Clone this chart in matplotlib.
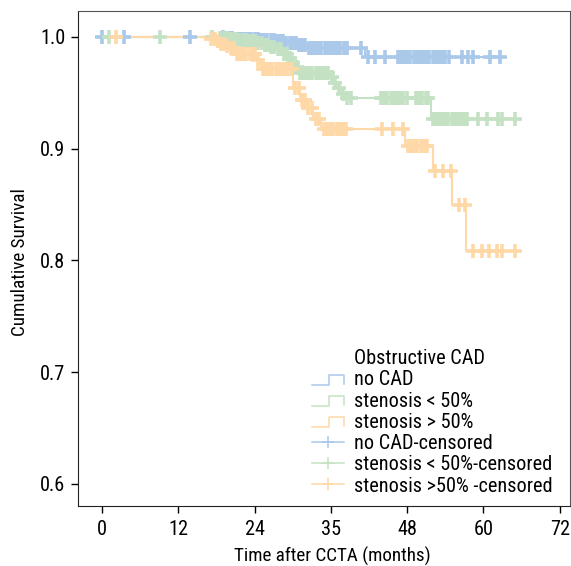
import numpy as np
import matplotlib
matplotlib.use("Agg")
import matplotlib.pyplot as plt
import matplotlib.font_manager as fm
from matplotlib.font_manager import FontProperties
from matplotlib.textpath import TextPath
from matplotlib.lines import Line2D
from matplotlib.legend_handler import HandlerBase

# ---------------- data ----------------
groups = ["no CAD", "stenosis < 50%", "stenosis > 50%"]
censor_labels = ["no CAD-censored", "stenosis < 50%-censored", "stenosis >50% -censored"]
legend_title = "Obstructive CAD"
x_label = "Time after CCTA (months)"
y_label = "Cumulative Survival"
colors = ["#a9c8ea", "#c4e2c3", "#fed8a6"]

# step (event) times and survival after each event
blue_t = [19.5, 21.0, 23.0, 25.0, 27.5, 29.0, 31.0, 32.5, 41.3]
blue_s = [0.9992, 0.9985, 0.998, 0.997, 0.996, 0.995, 0.993, 0.990, 0.982]
green_t = [18.5, 20.0, 21.5, 23.0, 24.5, 25.5, 26.5, 27.5, 28.5, 29.2, 29.8, 30.3, 30.8,
           35.8, 36.4, 37.0, 37.6, 38.2, 51.7]
green_s = [0.999, 0.998, 0.997, 0.996, 0.995, 0.993, 0.991, 0.989, 0.985, 0.981, 0.977, 0.973, 0.968,
           0.964, 0.959, 0.954, 0.949, 0.945, 0.927]
orange_t = [17.0, 17.8, 18.5, 19.3, 20.2, 21.0, 24.3, 25.0, 30.1, 31.2, 32.0, 33.2, 34.4,
            47.6, 52.0, 55.1, 57.3]
orange_s = [0.998, 0.996, 0.994, 0.992, 0.990, 0.985, 0.979, 0.971, 0.954, 0.944, 0.936, 0.927, 0.918,
            0.902, 0.880, 0.850, 0.808]

blue_c = [0, 3.5, 13.8,
          19.0, 19.5, 20.0, 20.5, 21.0, 21.5, 22.0, 22.5, 23.0, 23.5, 24.0, 24.5, 25.0, 25.5,
          26.0, 26.5, 27.0, 27.5, 28.0, 28.5, 29.0, 29.5, 30.0, 30.5, 31.0, 31.5, 32.0, 32.5,
          33.0, 33.5, 34.0, 34.5, 35.0, 35.5, 36.0, 36.5, 37.0, 37.5, 38.0, 38.6,
          40.8, 41.8, 42.9, 44.5,
          46.5, 47.0, 47.5, 48.0, 48.5, 49.0, 49.5, 50.0, 50.5, 51.0, 51.5, 52.0, 52.5, 53.0,
          53.5, 54.0, 54.6, 56.6, 57.5, 58.3, 61.0, 62.6]
green_c = [1.1, 9.1, 17.3,
           18.6, 19.1, 19.6, 20.1, 20.6, 21.1, 21.6, 22.1, 22.6, 23.1, 23.6, 24.1, 24.6, 25.1,
           25.6, 26.1, 26.6, 27.1, 27.6, 28.1, 28.6, 29.1, 29.6, 30.1, 30.6, 31.1, 31.6, 32.1,
           32.6, 33.1, 33.6, 34.1, 34.6, 35.1, 35.6,
           36.1, 36.7, 37.3, 37.9, 38.5, 39.2,
           43.9, 44.4, 44.9, 45.4, 45.9, 46.4, 46.9, 47.4, 47.9,
           49.4, 49.9, 50.4, 50.9, 51.3,
           52.0, 52.5, 53.0, 53.5, 54.0, 54.5, 55.0, 55.5, 56.0, 56.5, 57.0, 57.4,
           59.1, 60.5, 62.3, 63.0, 64.9]
orange_c = [2.2,
            17.2, 17.7, 18.2, 18.7, 19.2, 19.7, 20.2, 20.7, 21.2, 21.7, 22.2, 22.7, 23.2, 23.7,
            24.1, 24.6, 25.3, 25.8, 26.3, 26.8, 27.3, 27.8, 28.3, 28.8, 29.3, 29.8,
            30.4, 31.0, 31.5, 31.9, 32.4, 33.0, 33.6, 34.2,
            34.9, 35.4, 35.9, 36.4, 36.9, 37.4, 37.9, 38.3,
            44.0, 45.8, 47.3,
            48.1, 48.6, 49.1, 49.6, 50.1, 50.6, 51.1,
            52.4, 53.6, 54.9, 56.2, 57.1,
            58.3, 59.7, 60.9, 62.1, 63.0, 64.9]
end_times = [62.6, 64.9, 64.9]

x_ticks = [0, 12, 24, 36, 48, 60, 72]
x_tick_labels = ["0", "12", "24", "35", "48", "60", "72"]
y_ticks = [0.6, 0.7, 0.8, 0.9, 1.0]


# ---------------- font choice (narrow sans if available) ----------------
def pick_font():
    entries = fm.fontManager.ttflist
    ok_w = ('400', 'normal', 'regular', 'book')
    prefs = ['Liberation Sans Narrow', 'Arial Narrow', 'Roboto Condensed',
             'Open Sans Condensed', 'Noto Sans Condensed', 'DejaVu Sans Condensed']
    for p in prefs:
        for e in entries:
            if e.name == p and e.style == 'normal' and str(e.weight).lower() in ok_w:
                return e.name, e.stretch
    for base in ['Liberation Sans', 'Roboto', 'Noto Sans', 'Open Sans', 'DejaVu Sans']:
        for e in entries:
            if (e.name == base and e.style == 'normal' and str(e.weight).lower() in ok_w
                    and e.stretch in ('condensed', 'semi-condensed')):
                return e.name, e.stretch
    return 'Liberation Sans', 'normal'


fam, stretch = pick_font()
plt.rcParams['font.family'] = [fam, 'DejaVu Sans']
plt.rcParams['font.stretch'] = stretch
FP = FontProperties(family=[fam, 'DejaVu Sans'], stretch=stretch)


def fit_size(s, target_w, target_cap=None):
    tp = TextPath((0, 0), s, size=10, prop=FP)
    w_px = tp.get_extents().width * 100 / 72
    size_w = 10 * target_w / w_px
    if target_cap is None:
        return size_w
    cap = TextPath((0, 0), "H", size=10, prop=FP).get_extents().height * 100 / 72
    size_h = 10 * target_cap / cap
    return (size_w * size_h) ** 0.5


tick_fs = fit_size("0.6", 24, 14)
xlab_fs = fit_size(x_label, 195, 13.6)
ylab_fs = fit_size(y_label, 145, 13.6)
leg_fs = fit_size(censor_labels[2], 196)

# ---------------- plot ----------------
fig = plt.figure(figsize=(5.71, 5.66), dpi=100)
ax = fig.add_axes([0.1366, 0.106, 0.8614, 0.8746])

steps = [(blue_t, blue_s, blue_c), (green_t, green_s, green_c), (orange_t, orange_s, orange_c)]


def surv_at(t, times, surv):
    idx = np.searchsorted(times, t, side='right')
    vals = np.concatenate([[1.0], surv])
    return vals[idx]


for (tt, ss, cc), col, tend in zip(steps, colors, end_times):
    xs = np.concatenate([[0.0], tt, [tend]])
    ys = np.concatenate([[1.0], ss, [ss[-1]]])
    ax.step(xs, ys, where='post', color=col, lw=1.5, zorder=2)

for (tt, ss, cc), col in zip(steps, colors):
    cc = np.asarray(cc, dtype=float)
    ax.plot(cc, surv_at(cc, tt, ss), linestyle='none', marker='+', markersize=10,
            markeredgewidth=2.6, color=col, zorder=3)

ax.set_xlim(-3.8, 73.6)
ax.set_ylim(0.58, 1.0233)
ax.set_xticks(x_ticks)
ax.set_xticklabels(x_tick_labels)
ax.set_yticks(y_ticks)
ax.set_yticklabels([f"{v:.1f}" for v in y_ticks])
ax.tick_params(direction='out', length=5, width=1, labelsize=tick_fs)
ax.tick_params(axis='x', pad=5)
ax.tick_params(axis='y', pad=4)
for sp in ['left', 'bottom']:
    ax.spines[sp].set_color('#222222')
for sp in ['top', 'right']:
    ax.spines[sp].set_color('#555555')

fig.text((235 + 430) / 2 / 571, 1 - 562 / 566, x_label, fontsize=xlab_fs,
         ha='center', va='baseline')
fig.text(20 / 571, 1 - 262 / 566, y_label, fontsize=ylab_fs, rotation=90,
         ha='center', va='center')


class StepHandler(HandlerBase):
    def create_artists(self, legend, orig_handle, xdescent, ydescent, width, height,
                       fontsize, trans):
        x0 = -xdescent
        xm = x0 + width * 0.53
        x1 = x0 + width
        y0 = -ydescent + height * 0.05
        y1 = -ydescent + height * 0.75
        xs = [x0, xm, xm, x1, x1]
        ys = [y0, y0, y1, y1, y0 + (y1 - y0) * 0.1]
        ln = Line2D(xs, ys, color=orig_handle.get_color(), lw=1.1)
        ln.set_transform(trans)
        return [ln]


class BlankHandler(HandlerBase):
    def create_artists(self, legend, orig_handle, xdescent, ydescent, width, height,
                       fontsize, trans):
        ln = Line2D([0], [0], color='none')
        ln.set_visible(False)
        ln.set_transform(trans)
        return [ln]


blank = Line2D([], [], color='none')
step_handles = [Line2D([], [], color=c) for c in colors]
cens_handles = [Line2D([], [], color=c, lw=1.1, marker='+', markersize=9, markeredgewidth=1.1)
                for c in colors]
handles = [blank] + step_handles + cens_handles
labels = [legend_title] + groups + censor_labels
hmap = {blank: BlankHandler()}
for h in step_handles:
    hmap[h] = StepHandler()
leg_px = leg_fs * 100 / 72
leg = ax.legend(handles, labels, handler_map=hmap, loc='upper left',
                bbox_to_anchor=(312 / 571, 1 - 349 / 566), bbox_transform=fig.transFigure,
                frameon=False, fontsize=leg_fs, borderpad=0, borderaxespad=0,
                handlelength=32 / leg_px, handletextpad=10 / leg_px,
                labelspacing=0.2 - 1.8 / leg_px, numpoints=1)

fig.savefig("out.png", dpi=100)
